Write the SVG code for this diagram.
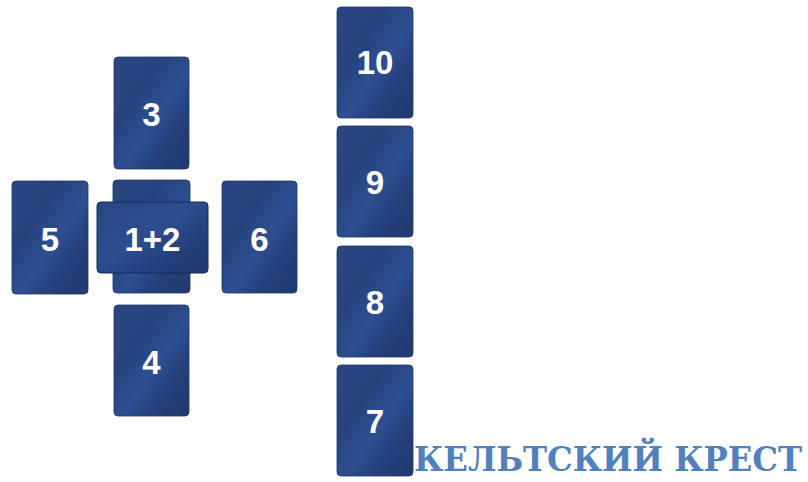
<svg xmlns="http://www.w3.org/2000/svg" width="808" height="482" viewBox="0 0 808 482">
<defs>
<linearGradient id="cardGrad" x1="0" y1="0" x2="1" y2="1">
<stop offset="0" stop-color="#2b4783"/>
<stop offset="0.35" stop-color="#27447f"/>
<stop offset="0.55" stop-color="#2d4f92"/>
<stop offset="0.75" stop-color="#243f7a"/>
<stop offset="1" stop-color="#213a70"/>
</linearGradient>
<linearGradient id="cardGradH" x1="0" y1="0" x2="1" y2="1">
<stop offset="0" stop-color="#2a4683"/>
<stop offset="0.45" stop-color="#2c4d90"/>
<stop offset="0.75" stop-color="#233e79"/>
<stop offset="1" stop-color="#20386e"/>
</linearGradient>
</defs>
<style>
.card{fill:url(#cardGrad);stroke:#1e3363;stroke-width:0.8}
.cardh{fill:url(#cardGradH);stroke:#172a55;stroke-width:1}
.num{font-family:"Liberation Sans",Arial,sans-serif;font-weight:bold;font-size:33px;fill:#ffffff;text-anchor:middle;dominant-baseline:central}
.title{font-family:"DejaVu Serif","Liberation Serif",serif;font-weight:bold;font-size:34px;fill:#4f81bd}
</style>
<rect width="808" height="482" fill="#ffffff"/>
<g id="card3"><rect class="card" x="114" y="57" width="75" height="112" rx="4"/><text class="num" x="151.5" y="114">3</text></g>
<g id="card5"><rect class="card" x="12" y="181" width="76" height="113" rx="4"/><text class="num" x="50" y="239">5</text></g>
<g id="card1"><rect class="card" x="113" y="180" width="77" height="113" rx="4"/></g>
<g id="card2"><rect class="cardh" x="97" y="202" width="111" height="71" rx="4"/><text class="num" x="152.5" y="239">1+2</text></g>
<g id="card6"><rect class="card" x="222" y="181" width="75" height="112" rx="4"/><text class="num" x="259.5" y="239">6</text></g>
<g id="card4"><rect class="card" x="114" y="305" width="75" height="111" rx="4"/><text class="num" x="151.5" y="362">4</text></g>
<g id="card10"><rect class="card" x="337" y="7" width="76" height="111" rx="4"/><text class="num" x="375" y="62">10</text></g>
<g id="card9"><rect class="card" x="337" y="126" width="76" height="111" rx="4"/><text class="num" x="375" y="182">9</text></g>
<g id="card8"><rect class="card" x="337" y="246" width="76" height="111" rx="4"/><text class="num" x="375" y="302">8</text></g>
<g id="card7"><rect class="card" x="337" y="365" width="76" height="111" rx="4"/><text class="num" x="375" y="421">7</text></g>
<g id="connectors"></g>
<text id="title" class="title" x="414" y="471" textLength="388" lengthAdjust="spacingAndGlyphs">КЕЛЬТСКИЙ КРЕСТ</text>
</svg>
